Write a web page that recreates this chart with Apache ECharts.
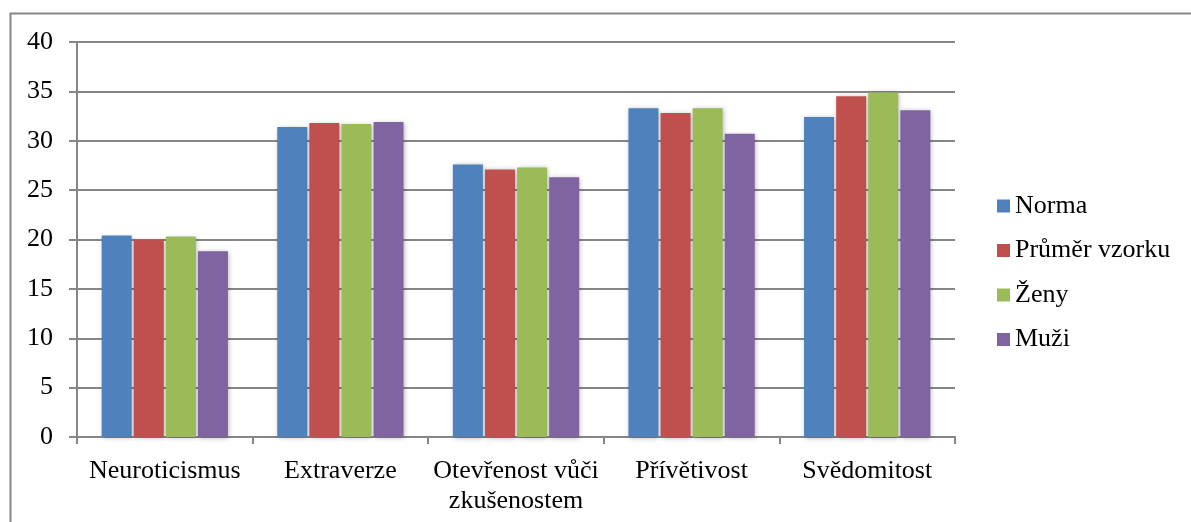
<!DOCTYPE html>
<html>
<head>
<meta charset="utf-8">
<script src="https://cdn.jsdelivr.net/npm/echarts@6/dist/echarts.min.js"></script>
<style>
  html, body { margin: 0; padding: 0; background: #fff; }
  #chart { width: 1191px; height: 522px; }
</style>
</head>
<body>
<div id="chart"></div>
<script>
// Personality dimensions (Big Five) – mean scores per group
const categories = ['Neuroticismus', 'Extraverze', 'Otevřenost vůči\nzkušenostem', 'Přívětivost', 'Svědomitost'];
const norma = [20.4, 31.4, 27.6, 33.3, 32.4];
const prumerVzorku = [20.0, 31.8, 27.1, 32.8, 34.5];
const zeny = [20.3, 31.7, 27.3, 33.3, 34.9];
const muzi = [18.8, 31.9, 26.3, 30.7, 33.1];
const yTicks = { min: 0, max: 40, interval: 5 };

const seriesDefs = [
  { name: 'Norma', data: norma, color: '#4F81BD' },
  { name: 'Průměr vzorku', data: prumerVzorku, color: '#C0504D' },
  { name: 'Ženy', data: zeny, color: '#9BBB59' },
  { name: 'Muži', data: muzi, color: '#8064A2' }
];

const font = '"Liberation Serif", "Times New Roman", serif';
const axisGray = '#868686';

const chart = echarts.init(document.getElementById('chart'), null, { renderer: 'canvas' });
chart.setOption({
  backgroundColor: '#ffffff',
  animation: false,
  textStyle: { fontFamily: font },
  graphic: [{
    type: 'polyline',
    shape: { points: [[10.5, 600], [10.5, 13.5], [1300, 13.5]] },
    style: { stroke: axisGray, lineWidth: 2, fill: null },
    silent: true
  }],
  grid: { left: 77, right: 236, top: 42, bottom: 85, containLabel: false },
  legend: {
    orient: 'vertical',
    left: 997,
    top: 193,
    padding: 0,
    itemWidth: 13,
    itemHeight: 13,
    itemGap: 18.5,
    icon: 'rect',
    textStyle: { fontFamily: font, fontSize: 26, color: '#000', lineHeight: 26, padding: [0, 0, 0, 0] },
    data: seriesDefs.map(s => s.name)
  },
  xAxis: {
    type: 'category',
    data: categories,
    axisLine: { lineStyle: { color: axisGray, width: 2 } },
    axisTick: { show: true, alignWithLabel: false, length: 7, lineStyle: { color: axisGray, width: 2 } },
    axisLabel: { color: '#000', fontFamily: font, fontSize: 26, lineHeight: 30, margin: 19, interval: 0 }
  },
  yAxis: {
    type: 'value',
    min: yTicks.min,
    max: yTicks.max,
    interval: yTicks.interval,
    axisLine: { show: true, lineStyle: { color: axisGray, width: 2 } },
    axisTick: { show: true, inside: false, length: 8, lineStyle: { color: axisGray, width: 2 } },
    splitLine: { show: true, lineStyle: { color: axisGray, width: 2 } },
    axisLabel: { color: '#000', fontFamily: font, fontSize: 26, margin: 24 }
  },
  series: seriesDefs.map(s => ({
    name: s.name,
    type: 'bar',
    data: s.data,
    barWidth: 30,
    barGap: '7%',
    itemStyle: {
      color: s.color,
      shadowBlur: 5,
      shadowColor: 'rgba(0,0,0,0.3)',
      shadowOffsetX: 1,
      shadowOffsetY: 1
    }
  }))
});
</script>
</body>
</html>
